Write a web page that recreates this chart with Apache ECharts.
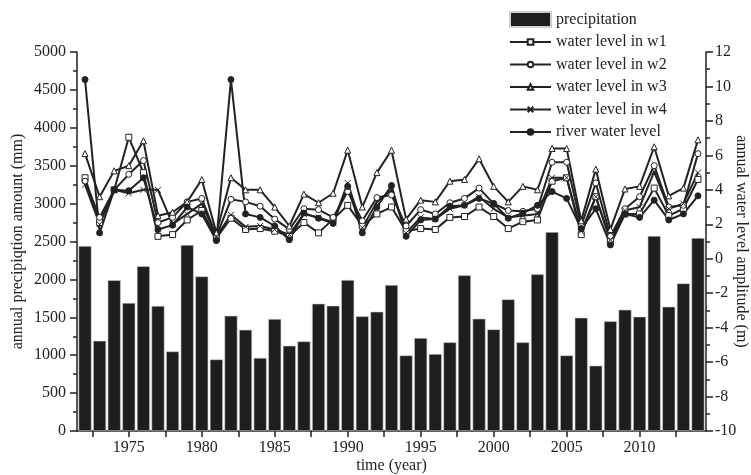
<!DOCTYPE html>
<html>
<head>
<meta charset="utf-8">
<script src="https://cdn.jsdelivr.net/npm/echarts@6/dist/echarts.min.js"></script>
<style>
html,body{margin:0;padding:0;background:#fff;}
#main{width:751px;height:475px;}
</style>
</head>
<body>
<div id="main"></div>
<script>
// data
var years = [];
for (var y = 1972; y <= 2014; y++) years.push(y);

var precipitation = [2440,1190,1990,1690,2175,1650,1050,2455,2040,945,1520,1335,965,1478,1125,1183,
  1680,1653,1992,1513,1574,1926,998,1227,1016,1170,2054,1482,1341,1737,1170,2067,2625,998,1495,862,
  1447,1600,1508,2573,1640,1948,2546];

var w1 = [4.7,2.1,4.0,7.05,5.0,1.3,1.4,2.25,2.8,1.2,2.35,1.7,1.75,1.6,1.3,2.1,1.5,2.3,3.1,1.9,2.6,3.0,
  1.6,1.75,1.7,2.4,2.45,3.0,2.45,1.75,2.15,2.25,4.5,4.7,1.4,3.6,1.0,2.6,2.6,4.1,2.5,2.9,4.6];
var w2 = [4.5,2.4,4.0,4.9,5.7,2.1,2.4,3.3,3.5,1.3,3.45,3.3,3.05,2.3,1.7,2.9,2.85,2.4,3.9,2.2,3.55,3.7,
  1.9,2.85,2.6,3.25,3.5,4.1,3.2,2.8,2.75,2.9,5.6,5.6,1.9,4.4,1.3,2.9,3.6,5.4,3.0,3.1,6.1];
var w3 = [6.1,3.6,5.1,5.4,6.85,2.5,2.7,3.3,4.6,1.5,4.7,4.0,4.0,3.0,1.9,3.75,3.25,3.8,6.3,3.0,5.0,6.3,
  2.3,3.4,3.3,4.5,4.6,5.8,4.2,3.3,4.2,4.0,6.4,6.4,2.2,5.2,1.7,4.05,4.2,6.5,3.65,4.1,6.9];
var w4 = [4.3,2.0,4.0,3.8,4.0,4.0,2.0,2.6,3.2,1.3,2.55,1.85,1.9,1.7,1.4,2.6,2.4,2.1,4.4,1.8,3.3,4.0,
  1.5,2.4,2.3,2.9,3.1,3.6,2.9,2.4,2.5,2.6,4.7,4.7,1.6,3.6,1.1,2.8,3.0,5.05,2.9,3.2,5.0];
var river = [10.4,1.5,4.0,3.95,4.7,1.7,1.95,3.0,2.6,1.05,10.4,2.6,2.4,1.9,1.1,2.65,2.35,2.05,4.2,1.5,
  3.0,4.25,1.3,2.25,2.3,3.05,3.1,3.5,3.2,2.35,2.65,3.1,3.9,3.5,1.75,2.9,0.8,2.6,2.4,3.4,2.25,2.6,3.65];

var xTicks = [1972.5,1975,1977.5,1980,1982.5,1985,1987.5,1990,1992.5,1995,1997.5,2000,2002.5,2005,2007.5,2010,2012.5];
var xLabels = [1975,1980,1985,1990,1995,2000,2005,2010];

function pairs(vals) {
  return years.map(function (yr, i) { return [yr, vals[i]]; });
}
function plain(v) { return String(v); }

var font = "'Liberation Serif', 'Times New Roman', serif";
var ink = '#222';

var myChart = echarts.init(document.getElementById('main'));

function lineSeries(name, vals, symbol, fill) {
  return {
    name: name,
    type: 'line',
    yAxisIndex: 1,
    data: pairs(vals),
    symbol: symbol,
    symbolSize: 6,
    z: 3,
    lineStyle: {color: ink, width: 2},
    itemStyle: {color: fill, borderColor: ink, borderWidth: 1}
  };
}

var legendText = {fontFamily: font, fontSize: 16, color: ink};

var option = {
  animation: false,
  backgroundColor: '#fff',
  textStyle: {fontFamily: font, color: ink},
  grid: {left: 77, right: 45, top: 52, bottom: 44, outerBoundsMode: 'none'},
  legend: [{
    left: 504,
    top: 6,
    itemWidth: 41,
    itemHeight: 15,
    textStyle: legendText,
    data: [{name: 'precipitation', icon: 'rect'}]
  }, {
    orient: 'vertical',
    left: 504,
    top: 29,
    itemWidth: 41,
    itemHeight: 7,
    itemGap: 6.5,
    textStyle: legendText,
    data: ['water level in w1','water level in w2','water level in w3','water level in w4','river water level']
  }],
  xAxis: {
    type: 'value',
    min: 1971.45,
    max: 2014.55,
    name: 'time (year)',
    nameLocation: 'middle',
    nameGap: 27,
    nameMoveOverlap: false,
    nameTextStyle: {fontFamily: font, fontSize: 16, color: ink},
    axisLine: {lineStyle: {color: ink, width: 1.5}},
    axisTick: {customValues: xTicks, length: 6, lineStyle: {color: ink, width: 1.5}},
    axisLabel: {customValues: xLabels, formatter: plain, fontFamily: font, fontSize: 16, color: ink, margin: 9},
    splitLine: {show: false}
  },
  yAxis: [{
    type: 'value',
    min: 0,
    max: 5000,
    interval: 500,
    name: 'annual precipiqtion amount (mm)',
    nameLocation: 'middle',
    nameGap: 51,
    nameMoveOverlap: false,
    nameTextStyle: {fontFamily: font, fontSize: 16, color: ink},
    axisLine: {show: true, lineStyle: {color: ink, width: 1.5}},
    axisTick: {show: true, length: 7, lineStyle: {color: ink, width: 1.5}},
    minorTick: {show: true, splitNumber: 2, length: 4, lineStyle: {color: ink, width: 1.5}},
    axisLabel: {formatter: plain, fontFamily: font, fontSize: 16, color: ink, margin: 11},
    splitLine: {show: false}
  }, {
    type: 'value',
    position: 'right',
    min: -10,
    max: 12,
    interval: 2,
    name: 'annual water level amplitude (m)',
    nameLocation: 'middle',
    nameRotate: -90,
    nameGap: 27,
    nameMoveOverlap: false,
    nameTextStyle: {fontFamily: font, fontSize: 16, color: ink},
    axisLine: {show: true, lineStyle: {color: ink, width: 1.5}},
    axisTick: {show: true, length: 7, lineStyle: {color: ink, width: 1.5}},
    minorTick: {show: true, splitNumber: 2, length: 4, lineStyle: {color: ink, width: 1.5}},
    axisLabel: {formatter: plain, fontFamily: font, fontSize: 16, color: ink, margin: 9},
    splitLine: {show: false}
  }],
  series: [{
    name: 'precipitation',
    type: 'bar',
    yAxisIndex: 0,
    data: pairs(precipitation),
    barWidth: 13,
    itemStyle: {color: '#1e1e1e', borderColor: '#cfcfcf', borderWidth: 0.6},
    z: 2
  },
    lineSeries('water level in w1', w1, 'rect', '#fff'),
    lineSeries('water level in w2', w2, 'circle', '#fff'),
    lineSeries('water level in w3', w3, 'triangle', '#fff'),
    lineSeries('water level in w4', w4, 'path://M0,0L10,10M10,0L0,10', '#fff'),
    lineSeries('river water level', river, 'circle', ink)
  ]
};

myChart.setOption(option);
</script>
</body>
</html>
